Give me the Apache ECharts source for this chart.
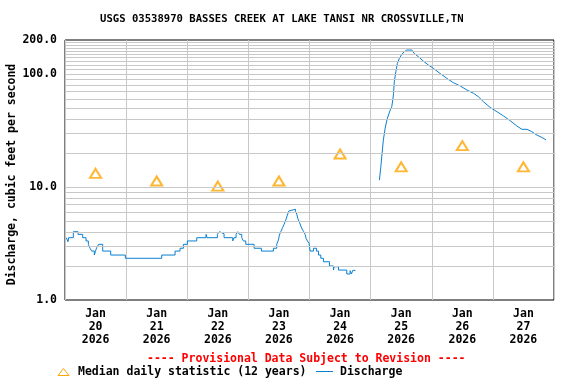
<!DOCTYPE html>
<html>
<head>
<meta charset="utf-8">
<script src="https://cdn.jsdelivr.net/npm/echarts@6/dist/echarts.min.js"></script>
<style>html,body{margin:0;padding:0;background:#fff}#c{width:576px;height:384px}</style>
</head>
<body>
<div id="c"></div>
<script>
// Hours since Jan 20 2026 00:00 and discharge (cfs), before the data gap
const dischargeHours1 = [0.5,1.18,1.44,3.27,5.11,6.94,8.25,9.17,9.82,10.47,11.52,11.92,12.44,13.22,14.80,17.94,23.70,37.97,43.21,45.17,46.48,48.05,51.72,55.38,55.78,59.84,60.62,61.28,62.46,65.86,66.38,67.17,67.82,68.48,69.40,70.05,70.97,74.24,77.12,81.83,83.14,83.80,84.19,84.72,85.50,86.02,86.68,87.33,87.86,88.25,90.47,91.00,91.39,92.05,92.57,93.09,93.75,94.27,94.67,95.19,95.84,96.24,97.55,98.72,99.51,100.43,101.47,103.83,105.40,105.66,107.37,110.64,111.95,112.47,113.00,114.04];
const dischargeValues1 = [3.56,3.28,3.56,4.02,3.81,3.56,3.33,3.11,2.87,2.71,2.50,2.68,2.91,3.11,2.71,2.50,2.34,2.50,2.71,2.87,3.11,3.33,3.56,3.81,3.56,3.81,4.02,3.86,3.56,3.33,3.56,3.81,4.02,3.81,3.56,3.33,3.11,2.87,2.71,2.87,3.11,3.40,3.76,4.02,4.40,4.67,5.10,5.65,6.13,6.35,6.05,5.77,5.28,4.87,4.52,4.25,4.02,3.81,3.51,3.33,3.17,2.71,2.87,2.71,2.50,2.34,2.18,2.00,1.84,1.97,1.84,1.70,1.82,1.70,1.83,1.83];
// after the data gap
const dischargeHours2 = [123.46,124.0,124.5,125.0,125.7,126.4,127.0,127.7,128.3,128.7,129.0,129.3,129.9,130.5,131.3,132.3,133.2,134.2,136.2,137.1,138.8,140.7,142.7,144.7,147.3,149.9,152.5,155.2,157.8,160.4,162.3,164.3,166.9,169.6,172.2,174.8,177.4,179.4,181.4,183.3,185.3,187.2,188.9];
const dischargeValues2 = [11.5,15.1,19.9,26.1,33.1,39.2,43.4,48.0,51.4,58.9,67.5,85.5,104.8,124,138,150,157,163,163,152,142,130,120,112,101,91.6,83.8,78.3,72.2,67.5,63.0,56.9,50.7,46.4,42.5,38.6,34.7,32.4,32.4,30.9,28.8,27.5,26.1];
// Median daily statistic at noon of each day
const medianHours = [12,36,60,84,108,132,156,180];
const medianValues = [13.2,11.3,10.2,11.3,19.6,15.1,23.2,15.1];
const dayLabels = ['Jan\n20\n2026','Jan\n21\n2026','Jan\n22\n2026','Jan\n23\n2026','Jan\n24\n2026','Jan\n25\n2026','Jan\n26\n2026','Jan\n27\n2026'];
const yLabelValues = [1,10,100,200];
const yGridValues = [2,3,4,5,6,7,8,9,10,20,30,40,50,60,70,80,90,100,110,120,130,140,150,160,170,180,190];

const FONT = 'DejaVu Sans Mono';
const BLUE = '#0a7fd0';
const chart = echarts.init(document.getElementById('c'), null, {renderer:'canvas'});
chart.setOption({
  animation: false,
  backgroundColor: '#fff',
  title: {
    text: 'USGS 03538970 BASSES CREEK AT LAKE TANSI NR CROSSVILLE,TN',
    left: 95, top: 9,
    textStyle: {fontFamily: FONT, fontWeight: 'bold', fontSize: 10.6, color: '#000'}
  },
  grid: {left: 65, right: 22, top: 40, bottom: 84, containLabel: false, outerBoundsMode: 'none',
    show: true, borderColor: '#000', borderWidth: 1, backgroundColor: 'transparent'},
  xAxis: [{
    type: 'value', min: 0, max: 192, interval: 24,
    axisLine: {show: false}, axisTick: {show: false}, axisLabel: {show: false},
    splitLine: {show: true, lineStyle: {color: '#c8c8c8', width: 1}}
  }, {
    type: 'value', min: 0, max: 192, interval: 12, position: 'bottom',
    axisLine: {show: false}, axisTick: {show: false}, splitLine: {show: false},
    axisLabel: {
      show: true, margin: 8, lineHeight: 13,
      fontFamily: FONT, fontWeight: 'bold', fontSize: 11.5, color: '#000',
      formatter: function (v) { return (v % 24 === 12) ? dayLabels[Math.floor(v / 24)] : ''; }
    }
  }],
  yAxis: {
    type: 'log', logBase: 10, min: 1, max: 200,
    name: 'Discharge, cubic feet per second', nameLocation: 'middle', nameGap: 47, nameMoveOverlap: false,
    nameTextStyle: {fontFamily: FONT, fontWeight: 'bold', fontSize: 11.5, color: '#000', padding: [0, 9, 0, 0]},
    axisLine: {show: false}, axisTick: {show: false}, splitLine: {show: false},
    axisLabel: {
      customValues: yLabelValues, margin: 8,
      fontFamily: FONT, fontWeight: 'bold', fontSize: 11.5, color: '#000',
      formatter: function (v) { return Number(v).toFixed(1); }
    }
  },
  series: [{
    type: 'line', name: 'grid', data: [], z: 1, silent: true,
    markLine: {
      silent: true, symbol: 'none', animation: false,
      label: {show: false},
      lineStyle: {color: '#c8c8c8', width: 1, type: 'solid'},
      emphasis: {disabled: true},
      data: yGridValues.map(v => ({yAxis: v}))
    }
  }, {
    type: 'line', name: 'Discharge', step: 'end', showSymbol: false, z: 3,
    lineStyle: {color: BLUE, width: 1},
    data: dischargeHours1.map((h, i) => [h, dischargeValues1[i]])
  }, {
    type: 'line', name: 'Discharge', showSymbol: false, z: 3,
    lineStyle: {color: BLUE, width: 1},
    data: dischargeHours2.map((h, i) => [h, dischargeValues2[i]])
  }, {
    type: 'scatter', name: 'Median daily statistic (12 years)', z: 4,
    symbol: 'emptyTriangle', symbolSize: [11, 9],
    itemStyle: {color: '#ffa500', borderColor: '#ffa500', borderWidth: 1},
    data: medianHours.map((h, i) => [h, medianValues[i]])
  }],
  graphic: [
    {type: 'text', left: 147, top: 353, style: {text: '---- Provisional Data Subject to Revision ----', fill: '#ff0000', font: 'bold 11.5px "DejaVu Sans Mono"'}},
    {type: 'polygon', shape: {points: [[63.5, 368.5], [69, 375.5], [58, 375.5]]}, style: {fill: 'none', stroke: '#ffa500', lineWidth: 1}},
    {type: 'text', left: 78, top: 366, style: {text: 'Median daily statistic (12 years)', fill: '#000', font: 'bold 11.5px "DejaVu Sans Mono"'}},
    {type: 'line', shape: {x1: 316, y1: 371.5, x2: 333, y2: 371.5}, style: {stroke: BLUE, lineWidth: 1}},
    {type: 'text', left: 340, top: 366, style: {text: 'Discharge', fill: '#000', font: 'bold 11.5px "DejaVu Sans Mono"'}}
  ]
});
</script>
</body>
</html>
